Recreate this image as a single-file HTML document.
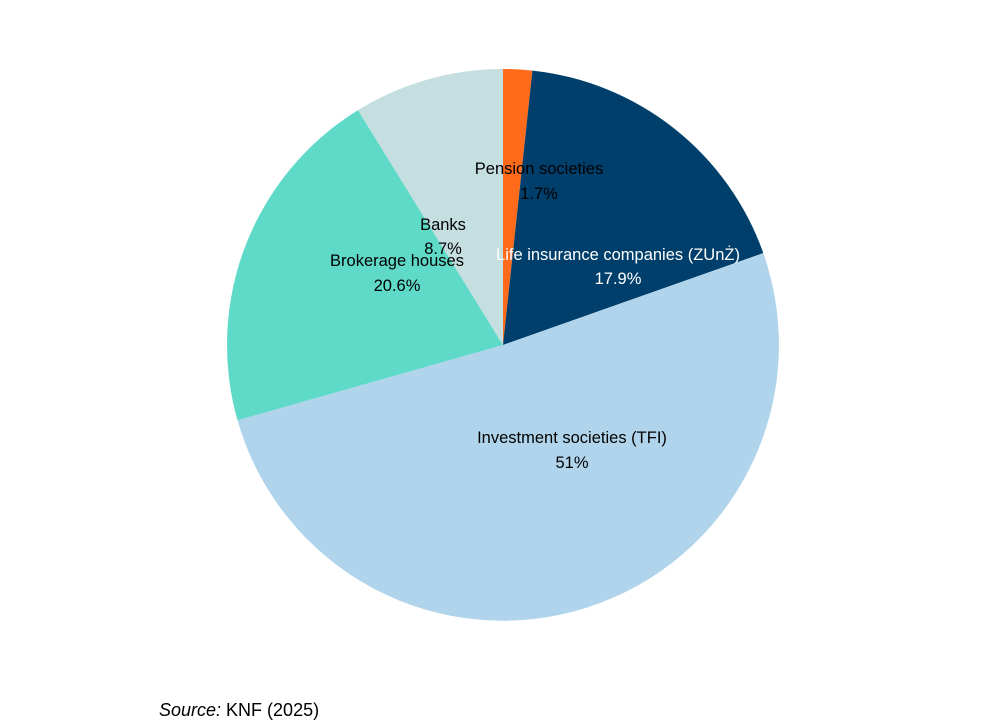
<!DOCTYPE html>
<html><head><meta charset="utf-8"><style>
html,body{margin:0;padding:0;background:#fff;}
svg text{font-family:"Liberation Sans",sans-serif;font-size:16.5px;}
</style></head><body>
<svg width="1008" height="720" viewBox="0 0 1008 720" xmlns="http://www.w3.org/2000/svg">
<path d="M503,345 L503,69 A276,276 0 0 1 532.4,70.6 Z" fill="#FF6B1A"/>
<path d="M503,345 L532.4,70.6 A276,276 0 0 1 763.3,253.1 Z" fill="#003F6B"/>
<path d="M503,345 L763.3,253.1 A276,276 0 1 1 237.5,420.3 Z" fill="#B0D4EB"/>
<path d="M503,345 L237.5,420.3 A276,276 0 0 1 358.0,110.1 Z" fill="#5FD9C8"/>
<path d="M503,345 L358.0,110.1 A276,276 0 0 1 503,69 Z" fill="#C5DEE0"/>
<g text-anchor="middle" fill="#000">
<text x="539" y="174">Pension societies</text>
<text x="539" y="199">1.7%</text>
<text x="443" y="230">Banks</text>
<text x="443" y="254">8.7%</text>
<text x="397" y="266">Brokerage houses</text>
<text x="397" y="291">20.6%</text>
<text x="572" y="443">Investment societies (TFI)</text>
<text x="572" y="468">51%</text>
</g>
<g text-anchor="middle" fill="#fff">
<text x="618" y="260">Life insurance companies (ZUnŻ)</text>
<text x="618" y="284">17.9%</text>
</g>
<text x="159" y="716" fill="#000" style="font-size:18px"><tspan font-style="italic">Source:</tspan> KNF (2025)</text>
</svg>
</body></html>
